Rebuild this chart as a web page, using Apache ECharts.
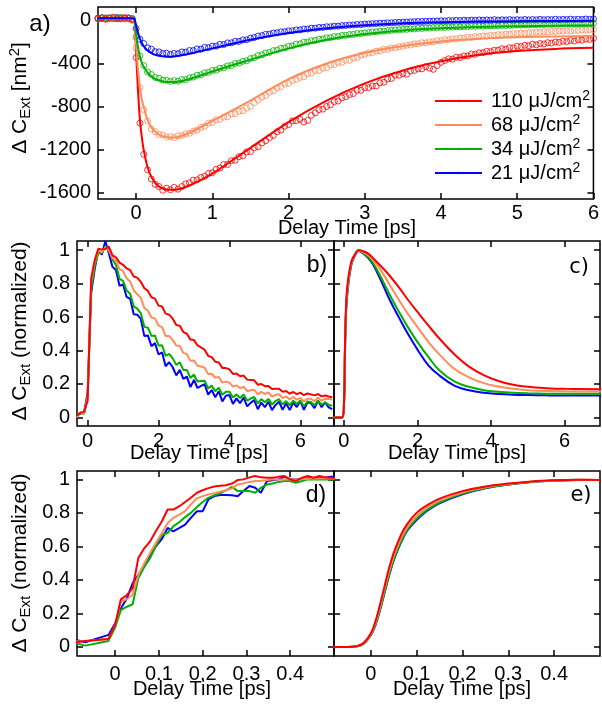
<!DOCTYPE html>
<html><head><meta charset="utf-8">
<script src="https://cdn.jsdelivr.net/npm/echarts@6/dist/echarts.min.js"></script>
<style>html,body{margin:0;padding:0;background:#fff}#c{width:602px;height:704px}</style>
</head><body><div id="c"></div><script>
// ---------- DATA ----------
const names = ['110 μJ/cm2', '68 μJ/cm2', '34 μJ/cm2', '21 μJ/cm2'];
const colors = ['#ff0000', '#ff8c5a', '#00b000', '#0000ff'];

// panel a: measured data (circles)
const tA = [-0.5,-0.45,-0.4,-0.35,-0.3,-0.25,-0.2,-0.15,-0.1,-0.05,
0,0.05,0.1,0.15,0.2,0.25,0.3,0.35,0.4,0.45,
0.5,0.55,0.6,0.65,0.7,0.75,0.8,0.85,0.9,0.95,
1,1.05,1.1,1.15,1.2,1.25,1.3,1.35,1.4,1.45,
1.5,1.55,1.6,1.65,1.7,1.75,1.8,1.85,1.9,1.95,
2,2.05,2.1,2.15,2.2,2.25,2.3,2.35,2.4,2.45,
2.5,2.55,2.6,2.65,2.7,2.75,2.8,2.85,2.9,2.95,
3,3.05,3.1,3.15,3.2,3.25,3.3,3.35,3.4,3.45,
3.5,3.55,3.6,3.65,3.7,3.75,3.8,3.85,3.9,3.95,
4,4.05,4.1,4.15,4.2,4.25,4.3,4.35,4.4,4.45,
4.5,4.55,4.6,4.65,4.7,4.75,4.8,4.85,4.9,4.95,
5,5.05,5.1,5.15,5.2,5.25,5.3,5.35,5.4,5.45,
5.5,5.55,5.6,5.65,5.7,5.75,5.8,5.85,5.9,5.95,
6];
const redA = [22,30,18,28,35,20,26,32,24,8,
-340,-950,-1240,-1385,-1470,-1520,-1540,-1575,-1555,-1570,
-1548,-1565,-1540,-1515,-1505,-1480,-1478,-1455,-1445,-1418,
-1412,-1380,-1368,-1335,-1335,-1300,-1296,-1262,-1255,-1218,
-1215,-1180,-1170,-1135,-1115,-1085,-1065,-1030,-1015,-980,
-965,-930,-928,-915,-940,-925,-878,-855,-825,-820,
-795,-780,-750,-745,-715,-705,-685,-675,-645,-645,
-620,-620,-605,-605,-575,-570,-540,-535,-505,-505,
-490,-495,-465,-460,-445,-445,-425,-440,-450,-415,
-385,-368,-352,-355,-338,-340,-325,-325,-308,-310,
-296,-295,-282,-285,-272,-272,-258,-262,-248,-250,
-236,-238,-226,-230,-216,-222,-210,-214,-202,-206,
-196,-199,-188,-192,-181,-186,-174,-179,-168,-172,
-160];
const orangeA = [18,25,15,22,28,20,24,16,22,10,
-250,-620,-825,-930,-1005,-1030,-1055,-1060,-1080,-1075,
-1085,-1068,-1065,-1050,-1045,-1025,-1015,-990,-980,-950,
-945,-920,-915,-895,-890,-865,-862,-840,-835,-810,
-795,-760,-735,-708,-695,-662,-650,-622,-610,-585,
-580,-555,-545,-525,-520,-492,-485,-462,-460,-440,
-435,-410,-405,-385,-385,-365,-365,-345,-340,-318,
-310,-298,-295,-280,-278,-265,-265,-250,-250,-238,
-236,-226,-224,-213,-212,-202,-204,-193,-194,-184,
-183,-174,-176,-166,-168,-158,-160,-151,-153,-145,
-146,-139,-141,-133,-134,-127,-129,-122,-123,-117,
-118,-112,-113,-108,-109,-104,-105,-100,-101,-96,
-98,-93,-94,-90,-91,-87,-88,-84,-85,-81,
-80];
const greenA = [28,22,30,25,20,27,32,24,26,18,
-150,-325,-415,-475,-498,-525,-532,-550,-552,-562,
-555,-560,-545,-545,-528,-522,-505,-500,-482,-478,
-460,-458,-440,-436,-418,-414,-396,-392,-375,-370,
-350,-342,-322,-315,-298,-293,-276,-271,-255,-251,
-235,-232,-215,-213,-198,-196,-183,-181,-169,-167,
-157,-155,-145,-144,-135,-134,-126,-125,-117,-117,
-110,-108,-102,-101,-95,-95,-89,-88,-83,-83,
-78,-78,-73,-74,-69,-69,-65,-66,-62,-62,
-59,-60,-57,-57,-54,-55,-52,-52,-49,-50,
-47,-48,-45,-46,-43,-44,-41,-42,-40,-40,
-38,-38,-36,-37,-34,-35,-33,-33,-31,-32,
-30,-30,-28,-29,-27,-27,-25,-26,-24,-24,
-22];
const blueA = [25,30,22,28,24,32,20,26,29,22,
-70,-170,-210,-250,-262,-285,-288,-302,-300,-312,
-302,-305,-288,-290,-275,-275,-260,-262,-246,-248,
-234,-234,-218,-219,-204,-203,-190,-190,-176,-175,
-160,-154,-140,-136,-124,-122,-112,-110,-101,-100,
-92,-91,-83,-83,-75,-75,-67,-67,-60,-60,
-54,-54,-48,-48,-43,-42,-38,-37,-33,-33,
-29,-28,-25,-24,-21,-20,-17,-17,-14,-13,
-11,-10,-8,-7,-5,-5,-3,-2,-1,0,
2,1,4,3,6,4,7,5,8,6,
10,7,10,8,12,8,11,9,13,9,
12,10,14,10,13,11,15,11,14,12,
16,12,15,13,17,13,16,14,18,15,
19];

// panel a: fit curves
const tFit = [-0.5,-0.05,-0.02,0,0.025,0.05,0.075,0.1,0.15,0.2,0.25,0.3,0.4,0.5,0.7,1,1.5,2,2.5,3,3.5,4,4.5,5,5.5,6];
const redFit = [25,25,5,-300,-650,-920,-1080,-1200,-1360,-1450,-1505,-1540,-1568,-1570,-1530,-1420,-1180,-940,-740,-580,-460,-375,-315,-280,-260,-250];
const orangeFit = [22,22,5,-220,-460,-620,-730,-800,-920,-990,-1030,-1058,-1082,-1085,-1040,-930,-740,-540,-395,-295,-232,-190,-166,-152,-144,-140];
const greenFit = [25,25,10,-120,-250,-330,-390,-425,-480,-515,-538,-552,-568,-568,-540,-470,-360,-255,-175,-122,-88,-68,-56,-48,-44,-42];
const blueFit = [25,25,15,-40,-110,-165,-205,-235,-275,-300,-315,-323,-332,-330,-305,-255,-175,-112,-68,-40,-22,-12,-6,-2,0,1];

// panel b: normalized measured
const tB = [-0.3,-0.2,-0.1,0,0.1,0.2,0.3,0.4,0.5,0.6,0.7,0.8,0.9,1,1.1,1.2,1.3,1.4,1.5,1.6,1.7,1.8,1.9,2,2.1,2.2,2.3,2.4,2.5,2.6,2.7,2.8,2.9,3,3.1,3.2,3.3,3.4,3.5,3.6,3.7,3.8,3.9,4,4.1,4.2,4.3,4.4,4.5,4.6,4.7,4.8,4.9,5,5.1,5.2,5.3,5.4,5.5,5.6,5.7,5.8,5.9,6,6.1,6.2,6.3,6.4,6.5,6.6,6.7,6.8,6.9];
const redB = [0.01,0.028,0.035,0.1,0.83,0.94,1.008,1.004,1.006,1.02,
0.968,0.956,0.925,0.912,0.89,0.88,0.842,0.835,0.81,0.772,
0.756,0.718,0.71,0.668,0.663,0.62,0.614,0.59,0.552,0.548,
0.51,0.5,0.465,0.462,0.43,0.418,0.405,0.368,0.36,0.333,
0.328,0.296,0.295,0.287,0.26,0.262,0.246,0.25,0.226,0.224,
0.222,0.196,0.2,0.187,0.188,0.17,0.172,0.172,0.154,0.158,
0.142,0.152,0.139,0.148,0.133,0.143,0.138,0.132,0.14,0.126,
0.131,0.125,0.121];
const orangeB = [0.0,0.03,0.025,0.12,0.81,0.93,0.998,0.988,1.016,0.997,
0.952,0.934,0.886,0.875,0.831,0.812,0.76,0.736,0.714,0.653,
0.639,0.597,0.592,0.549,0.54,0.486,0.486,0.462,0.43,0.427,
0.386,0.378,0.338,0.34,0.309,0.304,0.297,0.26,0.261,0.237,
0.242,0.208,0.214,0.208,0.184,0.192,0.174,0.184,0.157,0.162,
0.165,0.138,0.153,0.14,0.15,0.125,0.134,0.139,0.116,0.126,
0.107,0.122,0.106,0.117,0.096,0.112,0.112,0.097,0.118,0.1,
0.112,0.11,0.108];
const greenB = [0.02,0.026,0.022,0.13,0.766,0.904,0.983,0.981,1.02,1.009,
0.942,0.911,0.828,0.816,0.759,0.739,0.664,0.65,0.622,0.541,
0.536,0.487,0.489,0.43,0.431,0.368,0.38,0.353,0.314,0.329,
0.284,0.283,0.236,0.256,0.215,0.218,0.219,0.174,0.19,0.157,
0.178,0.136,0.154,0.153,0.119,0.138,0.116,0.137,0.101,0.113,
0.122,0.084,0.11,0.091,0.111,0.078,0.098,0.109,0.077,0.098,
0.072,0.1,0.08,0.101,0.067,0.095,0.092,0.072,0.101,0.076,
0.091,0.075,0.07];
const blueB = [0.02,0.024,0.028,0.15,0.744,0.886,1.0,0.972,1.054,0.979,
0.9,0.88,0.786,0.794,0.72,0.709,0.616,0.614,0.589,0.486,
0.49,0.426,0.444,0.376,0.389,0.306,0.33,0.3,0.251,0.284,
0.23,0.244,0.181,0.224,0.176,0.188,0.199,0.136,0.164,0.121,
0.156,0.096,0.13,0.134,0.081,0.114,0.085,0.119,0.066,0.087,
0.104,0.049,0.089,0.062,0.094,0.044,0.075,0.094,0.046,0.084,
0.044,0.089,0.062,0.099,0.046,0.089,0.086,0.056,0.099,0.061,
0.09,0.06,0.05];

// panel c: normalized model
const tC = [-0.28,-0.05,0,0.03,0.06,0.1,0.2,0.3,0.4,0.5,0.65,0.8,1,1.25,1.5,1.75,2,2.3,2.6,3,3.4,3.8,4.2,4.6,5,5.5,6,7];
const redC = [0,0,0.08,0.45,0.68,0.8,0.93,0.975,1,0.995,0.98,0.95,0.905,0.845,0.775,0.7,0.63,0.548,0.47,0.378,0.304,0.253,0.218,0.196,0.183,0.175,0.171,0.168];
const orangeC = [0,0,0.075,0.43,0.66,0.78,0.922,0.972,0.998,0.99,0.97,0.94,0.88,0.79,0.7,0.615,0.54,0.45,0.375,0.29,0.24,0.205,0.185,0.171,0.163,0.158,0.156,0.155];
const greenC = [0,0,0.07,0.42,0.65,0.765,0.915,0.97,0.996,0.985,0.96,0.92,0.84,0.73,0.63,0.535,0.45,0.36,0.28,0.215,0.183,0.163,0.153,0.147,0.144,0.142,0.141,0.141];
const blueC = [0,0,0.068,0.41,0.64,0.758,0.91,0.968,0.995,0.983,0.955,0.91,0.82,0.7,0.595,0.495,0.405,0.31,0.25,0.19,0.162,0.147,0.14,0.136,0.134,0.132,0.131,0.131];

// panel d: early-time measured
const tD = [-0.09,-0.068,-0.015,0,0.013,0.027,0.04,0.053,0.067,0.08,0.093,0.107,0.12,0.133,0.147,0.16,0.173,0.187,0.2,0.213,0.227,0.24,0.253,0.267,0.28,0.293,0.307,0.32,0.333,0.347,0.36,0.373,0.387,0.4,0.413,0.427,0.44,0.453,0.467,0.48,0.493,0.507];
const redD = [0.028,0.036,0.048,0.13,0.284,0.31,0.35,0.53,0.59,0.63,0.69,0.75,0.82,0.82,0.84,0.865,0.89,0.92,0.935,0.948,0.958,0.962,0.965,0.975,0.996,1.0,1.012,1.02,1.012,1.01,1.01,1.015,1.02,1.0,0.99,1.01,1.02,1.01,1.02,1.012,1.01,1.01];
const orangeD = [0.032,0.036,0.048,0.13,0.27,0.285,0.31,0.43,0.5,0.56,0.62,0.68,0.74,0.77,0.79,0.81,0.85,0.887,0.9,0.91,0.918,0.926,0.935,0.946,0.97,0.976,0.985,0.99,0.992,0.995,1.0,1.0,1.0,1.0,1.0,1.003,1.003,1.005,1.005,1.006,1.006,1.006];
const greenD = [0.022,0.008,0.036,0.115,0.22,0.24,0.255,0.41,0.48,0.53,0.6,0.67,0.68,0.72,0.745,0.775,0.8,0.835,0.865,0.89,0.905,0.917,0.935,0.955,0.93,0.93,0.93,0.92,0.95,0.97,0.975,0.985,0.99,0.99,0.98,0.99,1.0,1.0,1.0,1.0,1.0,1.0];
const blueD = [0.042,0.028,0.072,0.14,0.23,0.29,0.38,0.43,0.48,0.55,0.6,0.645,0.71,0.69,0.71,0.73,0.77,0.81,0.81,0.88,0.9,0.907,0.907,0.905,0.9,0.93,0.96,0.95,0.92,0.99,0.995,1.0,1.016,1.0,1.0,1.003,1.006,1.008,1.01,1.01,1.016,1.018];

// panel e: early-time model
const tE = [-0.09,-0.05,-0.03,-0.015,0,0.01,0.02,0.03,0.04,0.05,0.06,0.07,0.08,0.1,0.12,0.15,0.2,0.25,0.3,0.35,0.4,0.45,0.5];
const redE = [0,0,0.005,0.025,0.08,0.15,0.25,0.36,0.47,0.56,0.63,0.69,0.735,0.8,0.84,0.885,0.93,0.958,0.975,0.988,0.995,0.998,0.997];
const orangeE = [0,0,0.004,0.022,0.075,0.14,0.235,0.345,0.45,0.54,0.61,0.67,0.715,0.78,0.825,0.873,0.922,0.953,0.972,0.986,0.994,0.998,0.997];
const greenE = [0,0,0.004,0.02,0.07,0.13,0.22,0.325,0.43,0.52,0.59,0.65,0.7,0.765,0.812,0.862,0.915,0.949,0.97,0.985,0.993,0.997,0.997];
const blueE = [0,0,0.004,0.02,0.068,0.127,0.215,0.32,0.425,0.515,0.585,0.645,0.695,0.758,0.806,0.857,0.911,0.947,0.969,0.984,0.993,0.997,0.997];

// tick values
const xTicksA = [0,1,2,3,4,5,6];
const yTicksA = [0,-400,-800,-1200,-1600];
const xTicksBC = [0,2,4,6];
const yTicksN = [0,0.2,0.4,0.6,0.8,1];
const xTicksDE = [0,0.1,0.2,0.3,0.4];

// ---------- CHART ----------
const FONT = "'Liberation Sans', Arial, Helvetica, sans-serif";
const chart = echarts.init(document.getElementById('c'), null, {renderer: 'canvas'});

const grids = [
  {left: 98, top: 7, width: 498, height: 192},
  {left: 77, top: 241, width: 257, height: 185},
  {left: 334, top: 241, width: 266, height: 185},
  {left: 77, top: 471, width: 257, height: 185},
  {left: 334, top: 471, width: 266, height: 185}
].map(g => Object.assign({show: true, borderColor: '#000', borderWidth: 1.5, containLabel: false}, g));

const xAxis = [], yAxis = [];
const tick = {show: true, inside: true, length: 6, lineStyle: {color: '#000', width: 1.5}};
const lab = {fontSize: 20, fontFamily: FONT, color: '#000', formatter: v => String(v)};
const noLine = {show: false, onZero: false};
function mkAxes(gi, xr, yr, xt, yt, showY, xm) {
  xAxis.push({type: 'value', gridIndex: gi, position: 'bottom', min: xr[0], max: xr[1],
    axisLine: noLine, splitLine: {show: false},
    axisTick: Object.assign({customValues: xt}, tick),
    axisLabel: Object.assign({show: true, customValues: xt, margin: xm}, lab)});
  xAxis.push({type: 'value', gridIndex: gi, position: 'top', min: xr[0], max: xr[1],
    axisLine: noLine, splitLine: {show: false},
    axisTick: Object.assign({customValues: xt}, tick), axisLabel: {show: false}});
  yAxis.push({type: 'value', gridIndex: gi, position: 'left', min: yr[0], max: yr[1],
    axisLine: noLine, splitLine: {show: false},
    axisTick: Object.assign({customValues: yt}, tick),
    axisLabel: Object.assign({show: showY, customValues: yt, margin: 7}, lab)});
  yAxis.push({type: 'value', gridIndex: gi, position: 'right', min: yr[0], max: yr[1],
    axisLine: noLine, splitLine: {show: false},
    axisTick: Object.assign({customValues: yt}, tick), axisLabel: {show: false}});
}
mkAxes(0, [-0.5, 6], [-1656, 130], xTicksA, yTicksA, true, 4);
mkAxes(1, [-0.3, 6.95], [-0.051, 1.054], xTicksBC, yTicksN, true, 5);
mkAxes(2, [-0.27, 6.96], [-0.051, 1.054], xTicksBC, yTicksN, false, 5);
mkAxes(3, [-0.087, 0.5], [-0.054, 1.05], xTicksDE, yTicksN, true, 8);
mkAxes(4, [-0.08, 0.5], [-0.054, 1.05], xTicksDE, yTicksN, false, 8);

const pair = (xs, ys) => xs.map((x, i) => [x, ys[i]]);
const dataA = [redA, orangeA, greenA, blueA];
const fitA = [redFit, orangeFit, greenFit, blueFit];
const setB = [redB, orangeB, greenB, blueB];
const setC = [redC, orangeC, greenC, blueC];
const setD = [redD, orangeD, greenD, blueD];
const setE = [redE, orangeE, greenE, blueE];

const series = [];
for (let k = 0; k < 4; k++) {
  series.push({type: 'line', name: names[k], xAxisIndex: 0, yAxisIndex: 0, data: pair(tFit, fitA[k]),
    smooth: 0.3, symbol: 'none', lineStyle: {width: 2, color: colors[k]}, itemStyle: {color: colors[k]}, z: 4});
}
for (let k = 3; k >= 0; k--) {
  series.push({type: 'scatter', name: 'data ' + names[k], xAxisIndex: 0, yAxisIndex: 0, data: pair(tA, dataA[k]),
    symbol: 'circle', symbolSize: 6, itemStyle: {color: 'rgba(0,0,0,0)', borderColor: colors[k], borderWidth: 1}, z: 3});
}
const panels = [[setB, tB, 2, false], [setC, tC, 4, 0.4], [setD, tD, 6, false], [setE, tE, 8, 0.4]];
panels.forEach(([set, ts, ax, sm]) => {
  for (let k = 3; k >= 0; k--) {
    series.push({type: 'line', name: 'p' + ax + names[k], xAxisIndex: ax, yAxisIndex: ax, data: pair(ts, set[k]),
      smooth: sm, symbol: 'none', clip: true, lineStyle: {width: 2, color: colors[k]}, z: 3});
  }
});

function txt(x, y, text, size, extra) {
  return {type: 'text', x: x, y: y, z: 100,
    style: Object.assign({text: text, fontSize: size, fontFamily: FONT, fill: '#000', align: 'center', verticalAlign: 'middle'}, extra || {})};
}
const richTitle = {
  sub: {fontSize: 15, lineHeight: 15, verticalAlign: 'bottom', fontFamily: FONT, fill: '#000'},
  sup: {fontSize: 15, lineHeight: 13, verticalAlign: 'top', fontFamily: FONT, fill: '#000'}
};
function yTitle(x, y, text) {
  const t = txt(x, y, text, 21, {lineHeight: 26, rich: richTitle});
  t.rotation = Math.PI / 2;
  return t;
}
const graphic = [
  txt(40, 24, 'a)', 24),
  txt(317, 266, 'b)', 23),
  txt(579, 268, 'c)', 21, {fontFamily: "'DejaVu Sans', sans-serif"}),
  txt(316, 496, 'd)', 23),
  txt(581, 496, 'e)', 21, {fontFamily: "'DejaVu Sans', sans-serif"}),
  yTitle(20, 98, 'Δ C{sub|Ext} [nm{sup|2}]'),
  yTitle(20, 331, 'Δ C{sub|Ext} (normalized)'),
  yTitle(20, 563, 'Δ C{sub|Ext} (normalized)'),
  txt(347, 228, 'Delay Time [ps]', 20),
  txt(199, 453, 'Delay Time [ps]', 20),
  txt(457, 453, 'Delay Time [ps]', 20),
  txt(202, 689, 'Delay Time [ps]', 20),
  txt(462, 689, 'Delay Time [ps]', 20)
];

chart.setOption({
  animation: false,
  backgroundColor: '#fff',
  grid: grids,
  xAxis: xAxis,
  yAxis: yAxis,
  legend: {
    data: names, orient: 'vertical', left: 429, top: 84, itemWidth: 47, itemHeight: 3, itemGap: 0,
    selectedMode: false,
    formatter: n => n.replace(/cm2$/, 'cm{sup|2}'),
    textStyle: {fontSize: 20, fontFamily: FONT, color: '#000', lineHeight: 24, padding: [0, 0, 0, 4],
      rich: {sup: {fontSize: 14, lineHeight: 12, verticalAlign: 'top', fontFamily: FONT, color: '#000'}}}
  },
  graphic: graphic,
  series: series
});
</script></body></html>
